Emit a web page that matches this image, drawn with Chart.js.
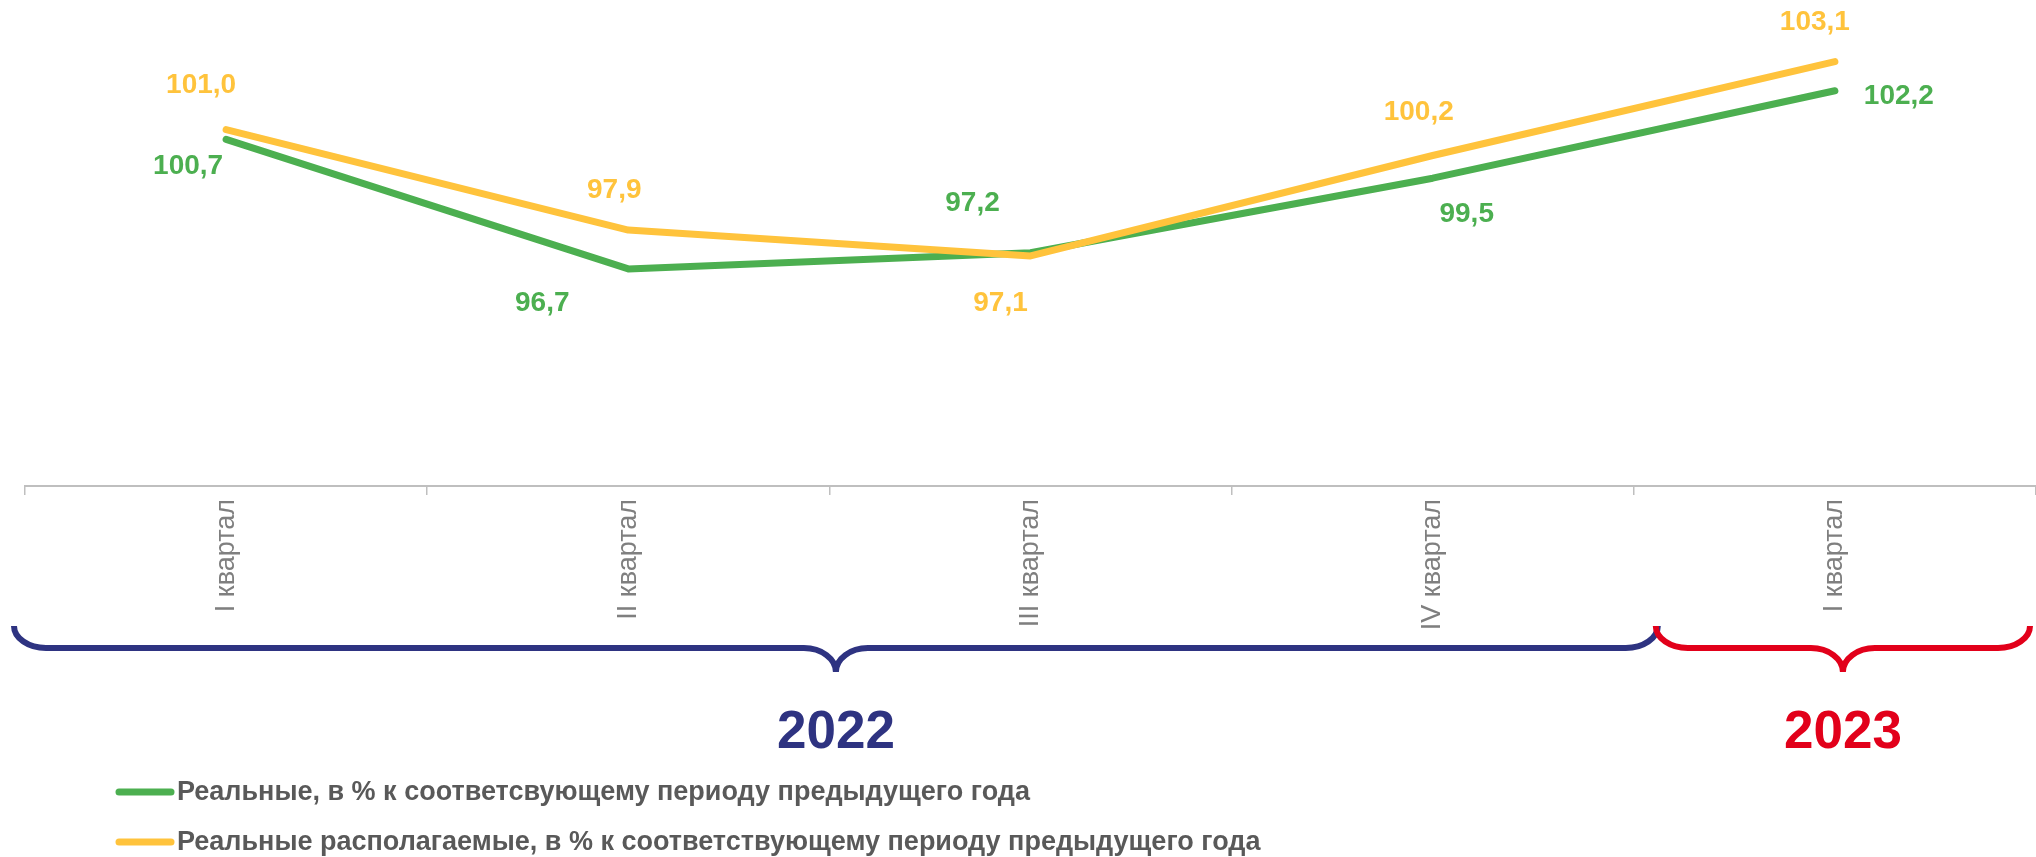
<!DOCTYPE html>
<html>
<head>
<meta charset="utf-8">
<script src="https://cdn.jsdelivr.net/npm/chart.js@4/dist/chart.umd.min.js"></script>
<style>
  body { margin: 0; background: #fff; }
  .chart-container { position: relative; width: 2036px; height: 857px; }
</style>
</head>
<body>
<div class="chart-container">
  <canvas id="chart"></canvas>
</div>
<script>
// quarters on the x axis
const quarters = ['I квартал', 'II квартал', 'III квартал', 'IV квартал', 'I квартал'];
// real incomes, % to the same period of previous year
const realIncome = [100.7, 96.7, 97.2, 99.5, 102.2];
// real disposable incomes, % to the same period of previous year
const disposableIncome = [101.0, 97.9, 97.1, 100.2, 103.1];
// year groups under the axis and how many quarters each one covers
const years = ['2022', '2023'];
const yearQuarters = [4, 1];
const seriesNames = [
  'Реальные, в % к соответсвующему периоду предыдущего года',
  'Реальные располагаемые, в % к соответствующему периоду предыдущего года'
];

const GREEN = '#4caf50';
const YELLOW = '#ffc33c';
const yearColors = ['#2e3381', '#e2001a'];
const FONT = '"Liberation Sans", Arial, sans-serif';

// where each value label sits relative to its point (px)
const greenLabelOffsets = [[-38, 27], [-86, 34], [-58, -49], [34, 36], [64, 6]];
const yellowLabelOffsets = [[-25, -44], [-14, -40], [-30, 47], [-14, -43], [-20, -39]];

const fmt = v => v.toFixed(1).replace('.', ',');

function boldText(ctx, text, x, y, size, color, align) {
  ctx.save();
  ctx.font = 'bold ' + size + 'px ' + FONT;
  ctx.fillStyle = color;
  ctx.textBaseline = 'middle';
  ctx.textAlign = align || 'center';
  ctx.fillText(text, x, y);
  ctx.restore();
}

// curly brace lying on its back, rounded ends and a cusp in the middle
function drawBrace(ctx, x1, x2, yTop, yMid, yTip, r, color) {
  const xc = (x1 + x2) / 2;
  const k = 0.55;
  const h = yMid - yTop;
  const t = yTip - yMid;
  ctx.save();
  ctx.strokeStyle = color;
  ctx.lineWidth = 6;
  ctx.beginPath();
  ctx.moveTo(x1, yTop);
  ctx.bezierCurveTo(x1, yTop + k * h, x1 + r - k * r, yMid, x1 + r, yMid);
  ctx.lineTo(xc - r, yMid);
  ctx.bezierCurveTo(xc - r + k * r, yMid, xc, yTip - k * t, xc, yTip);
  ctx.moveTo(xc, yTip);
  ctx.bezierCurveTo(xc, yTip - k * t, xc + r - k * r, yMid, xc + r, yMid);
  ctx.lineTo(x2 - r, yMid);
  ctx.bezierCurveTo(x2 - r + k * r, yMid, x2, yTop + k * h, x2, yTop);
  ctx.stroke();
  ctx.restore();
}

const extras = {
  id: 'extras',
  afterDatasetsDraw(chart) {
    const ctx = chart.ctx;
    // value labels
    const sets = [[1, greenLabelOffsets, GREEN], [0, yellowLabelOffsets, YELLOW]];
    sets.forEach(([di, offs, color]) => {
      const meta = chart.getDatasetMeta(di);
      const data = chart.data.datasets[di].data;
      meta.data.forEach((pt, i) => {
        boldText(ctx, fmt(data[i]), pt.x + offs[i][0], pt.y + offs[i][1], 28, color);
      });
    });

    // year braces
    const x = chart.scales.x;
    const half = (x.getPixelForValue(1) - x.getPixelForValue(0)) / 2;
    let start = 0;
    years.forEach((yr, k) => {
      const end = start + yearQuarters[k] - 1;
      let left = x.getPixelForValue(start) - half;
      let right = x.getPixelForValue(end) + half;
      left += k === 0 ? -11 : 22;
      right += k === years.length - 1 ? -6 : 24;
      drawBrace(ctx, left, right, 626, 648, 672, 32, yearColors[k]);
      boldText(ctx, yr, (left + right) / 2, 733, 53, yearColors[k]);
      start = end + 1;
    });

    // legend
    const colors = [GREEN, YELLOW];
    seriesNames.forEach((name, i) => {
      const y = 792 + i * 50;
      ctx.save();
      ctx.strokeStyle = colors[i];
      ctx.lineWidth = 7;
      ctx.lineCap = 'round';
      ctx.beginPath();
      ctx.moveTo(119, y);
      ctx.lineTo(171, y);
      ctx.stroke();
      ctx.restore();
      boldText(ctx, name, 177, y + 1, 27, '#595959', 'left');
    });
  }
};

new Chart(document.getElementById('chart'), {
  type: 'line',
  data: {
    labels: quarters,
    datasets: [
      {
        label: seriesNames[1],
        data: disposableIncome,
        borderColor: YELLOW,
        backgroundColor: YELLOW,
        borderWidth: 7,
        pointRadius: 0,
        borderCapStyle: 'round',
        borderJoinStyle: 'round',
        order: 0
      },
      {
        label: seriesNames[0],
        data: realIncome,
        borderColor: GREEN,
        backgroundColor: GREEN,
        borderWidth: 7,
        pointRadius: 0,
        borderCapStyle: 'round',
        borderJoinStyle: 'round',
        order: 1
      }
    ]
  },
  options: {
    responsive: true,
    maintainAspectRatio: false,
    animation: false,
    layout: { padding: { left: 25, right: 0, top: 0, bottom: 0 } },
    plugins: { legend: { display: false }, tooltip: { enabled: false } },
    scales: {
      y: { display: false, min: 90, max: 105 },
      x: {
        offset: true,
        afterFit: (scale) => { scale.height = 371; },
        grid: {
          offset: true,
          drawOnChartArea: false,
          drawTicks: true,
          tickLength: 9,
          color: '#bfbfbf',
          lineWidth: 1.5
        },
        border: { color: '#bfbfbf', width: 2 },
        ticks: {
          autoSkip: false,
          maxRotation: 90,
          minRotation: 90,
          padding: 4,
          color: '#7f7f7f',
          font: { size: 27, family: FONT }
        }
      }
    }
  },
  plugins: [extras]
});
</script>
</body>
</html>
